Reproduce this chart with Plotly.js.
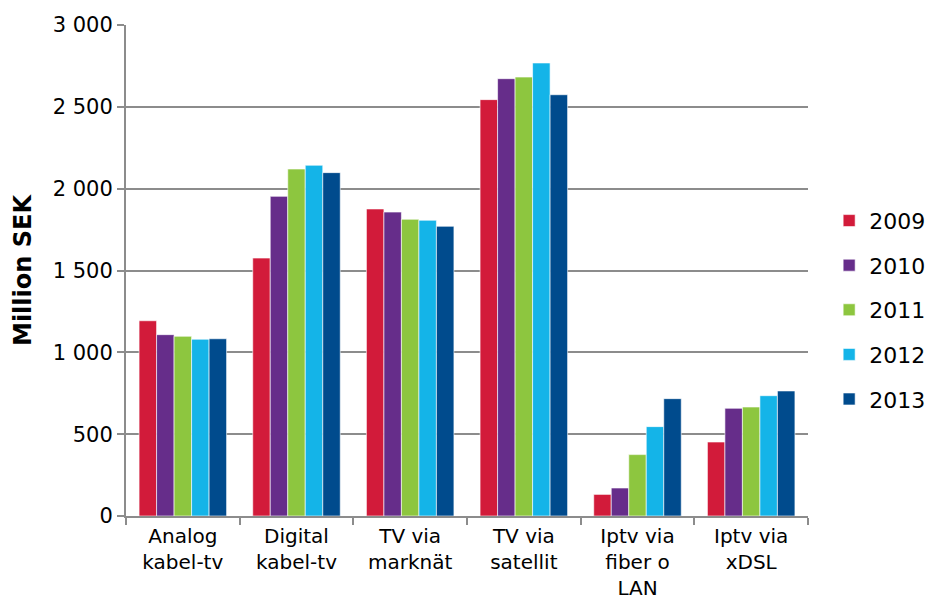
<!DOCTYPE html>
<html>
<head>
<meta charset="utf-8">
<script src="https://cdn.plot.ly/plotly-3.0.1.min.js"></script>
<style>
  html, body { margin: 0; padding: 0; background: #fff; }
  #chart { width: 931px; height: 602px; }
</style>
</head>
<body>
<div id="chart"></div>
<script>
(function () {
  "use strict";

  var CATEGORIES = [
    "Analog<br>kabel-tv",
    "Digital<br>kabel-tv",
    "TV via<br>marknät",
    "TV via<br>satellit",
    "Iptv via<br>fiber o<br>LAN",
    "Iptv via<br>xDSL"
  ];
  var YEARS = ["2009", "2010", "2011", "2012", "2013"];
  var COLORS = ["#d21b3a", "#662d8a", "#8dc63f", "#14b4e8", "#004b8d"];

  // Million SEK per year, one value per category
  var V2009 = [1193, 1576, 1876, 2544, 132, 452];
  var V2010 = [1108, 1953, 1857, 2672, 171, 658];
  var V2011 = [1098, 2120, 1813, 2682, 375, 666];
  var V2012 = [1080, 2143, 1807, 2768, 546, 735];
  var V2013 = [1083, 2098, 1770, 2574, 717, 764];
  var SERIES = [V2009, V2010, V2011, V2012, V2013];

  var FONT = "Verdana, 'DejaVu Sans', sans-serif";

  var traces = YEARS.map(function (year, i) {
    return {
      type: "bar",
      name: year,
      x: CATEGORIES,
      y: SERIES[i],
      legendgroup: year,
      marker: { color: COLORS[i], line: { color: "rgba(255,255,255,0.6)", width: 1 } },
      hoverinfo: "x+y+name"
    };
  });

  var layout = {
    width: 931,
    height: 602,
    margin: { t: 25, r: 123, b: 86, l: 126, autoexpand: false },
    paper_bgcolor: "#fff",
    plot_bgcolor: "#fff",
    separators: ", ",
    font: { family: FONT, size: 21, color: "#000" },
    barmode: "group",
    bargap: 0.23,
    bargroupgap: 0,
    showlegend: true,
    legend: {
      x: 1.031, xanchor: "left",
      y: 0.42, yanchor: "middle",
      traceorder: "grouped",
      tracegroupgap: 13,
      font: { family: FONT, size: 22, color: "#000" },
      itemwidth: 30
    },
    xaxis: {
      type: "category",
      showline: true,
      linecolor: "#8c8c8c",
      linewidth: 2,
      ticks: "outside",
      tickson: "boundaries",
      ticklen: 7,
      tickcolor: "#8c8c8c",
      tickwidth: 2,
      ticklabelstandoff: 1,
      showgrid: false,
      tickfont: { family: FONT, size: 20, color: "#000" },
      fixedrange: true
    },
    yaxis: {
      range: [0, 3000],
      dtick: 500,
      tickformat: ",d",
      showline: true,
      linecolor: "#8c8c8c",
      linewidth: 2,
      ticks: "outside",
      ticklen: 7,
      tickcolor: "#8c8c8c",
      tickwidth: 2,
      showgrid: true,
      gridcolor: "#8c8c8c",
      gridwidth: 2,
      zeroline: false,
      tickfont: { family: FONT, size: 21, color: "#000" },
      title: {
        text: "Million SEK",
        font: { family: FONT, size: 24, color: "#000", weight: "bold" },
        standoff: 14
      },
      fixedrange: true
    }
  };

  Plotly.newPlot("chart", traces, layout, { displayModeBar: false, staticPlot: true });
})();
</script>
</body>
</html>
